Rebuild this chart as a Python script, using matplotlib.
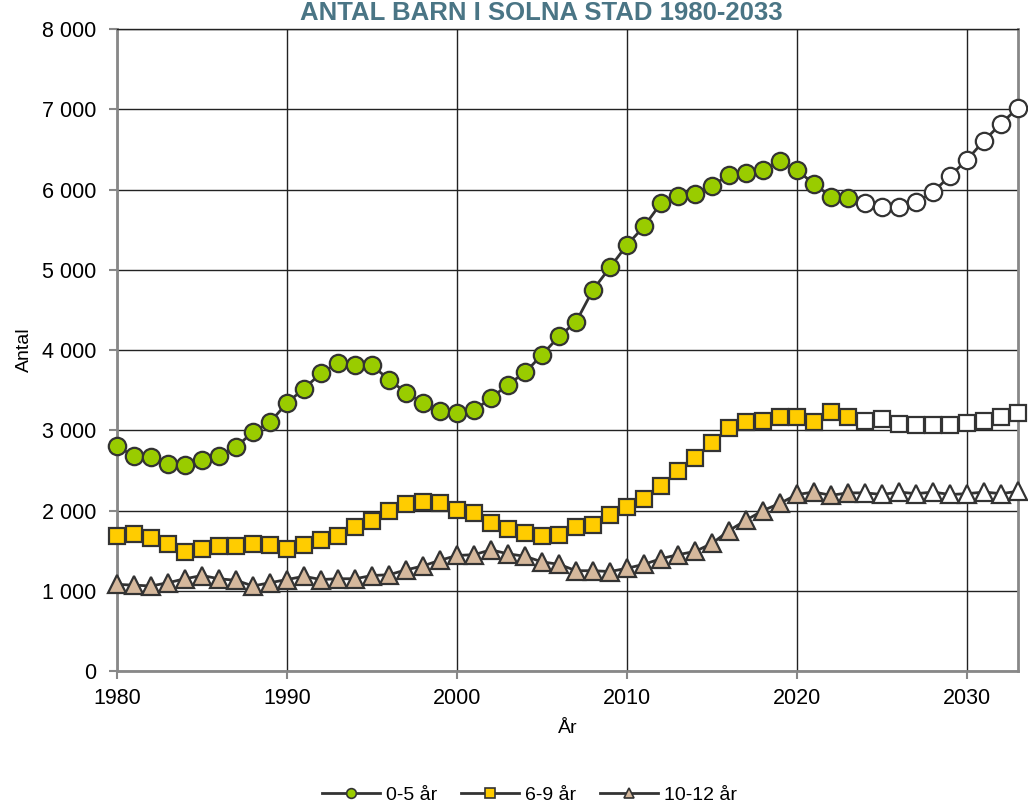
import matplotlib
matplotlib.use("Agg")
import matplotlib.pyplot as plt
from matplotlib.lines import Line2D
from matplotlib.ticker import FuncFormatter

# years; values from 2024 onward are projections (white markers)
years = list(range(1980, 2034))
first_proj = 2024

age_0_5 = [2800, 2680, 2670, 2580, 2570, 2630, 2680, 2790, 2980, 3100,
           3340, 3520, 3710, 3840, 3810, 3810, 3630, 3470, 3340, 3240,
           3220, 3250, 3400, 3570, 3720, 3940, 4170, 4350, 4750, 5030,
           5310, 5540, 5830, 5920, 5950, 6050, 6180, 6200, 6240, 6350,
           6240, 6070, 5910, 5900, 5830, 5780, 5780, 5840, 5970, 6170,
           6370, 6610, 6820, 7020]
age_6_9 = [1680, 1710, 1660, 1580, 1480, 1520, 1560, 1560, 1580, 1570,
           1520, 1570, 1630, 1680, 1800, 1870, 2000, 2080, 2100, 2090,
           2010, 1970, 1850, 1770, 1720, 1680, 1690, 1790, 1820, 1940,
           2050, 2140, 2310, 2490, 2660, 2840, 3030, 3100, 3120, 3170,
           3170, 3100, 3230, 3170, 3120, 3140, 3080, 3070, 3060, 3070,
           3090, 3110, 3160, 3210]
age_10_12 = [1080, 1070, 1060, 1100, 1150, 1190, 1150, 1130, 1060, 1100,
             1140, 1180, 1140, 1150, 1150, 1190, 1200, 1260, 1310, 1380,
             1440, 1450, 1510, 1460, 1430, 1360, 1330, 1250, 1250, 1240,
             1280, 1330, 1400, 1450, 1490, 1590, 1750, 1880, 2000, 2090,
             2200, 2230, 2190, 2220, 2220, 2200, 2230, 2210, 2230, 2200,
             2210, 2230, 2210, 2240]

series = [
    ("0-5 år", age_0_5, "o", "#99CC00", 12.5),
    ("6-9 år", age_6_9, "s", "#FFCC00", 12),
    ("10-12 år", age_10_12, "^", "#D5B89C", 13),
]

plt.rcParams['font.family'] = ['Liberation Sans', 'DejaVu Sans']
edge = "#333333"

fig = plt.figure(figsize=(10.28, 8.11), dpi=100)
ax = fig.add_axes([0.1138, 0.1726, 0.8765, 0.7916])

split = years.index(first_proj)
handles = []
for label, vals, mk, col, ms in series:
    ax.plot(years, vals, color=edge, lw=2, zorder=3)
    ax.plot(years[:split], vals[:split], ls="none", marker=mk, ms=ms,
            mfc=col, mec=edge, mew=1.6, zorder=4, clip_on=False)
    ax.plot(years[split:], vals[split:], ls="none", marker=mk, ms=ms,
            mfc="white", mec=edge, mew=1.6, zorder=4, clip_on=False)
    handles.append(Line2D([], [], color=edge, lw=2, marker=mk, ms=7,
                          mfc=col, mec=edge, mew=1.2, label=label))

ax.set_xlim(1980, 2033)
ax.set_ylim(0, 8000)
ax.set_xticks(range(1980, 2031, 10))
ax.set_yticks(range(0, 8001, 1000))
ax.yaxis.set_major_formatter(FuncFormatter(lambda v, p: f"{int(v):,}".replace(",", " ")))
ax.grid(True, color="#222222", lw=1)
ax.set_axisbelow(True)

for s in ["left", "bottom", "right"]:
    ax.spines[s].set_color("#888888")
    ax.spines[s].set_linewidth(2)
ax.spines["top"].set_color("#222222")
ax.spines["top"].set_linewidth(1)
ax.tick_params(axis="both", colors="#888888", length=6, width=1.5,
               labelcolor="black", labelsize=15.5)
ax.tick_params(axis="x", pad=6)
ax.tick_params(axis="y", pad=9)

ax.set_xlabel("År", fontsize=14, labelpad=8)
ax.set_ylabel("Antal", fontsize=14, labelpad=6)
fig.text(0.527, 0.984, "ANTAL BARN I SOLNA STAD 1980-2033", ha="center",
         va="center", fontsize=18.5, fontweight="bold", color="#4A7585")

fig.legend(handles=handles, loc="center", bbox_to_anchor=(0.515, 0.02),
           ncol=3, frameon=False, fontsize=14, handlelength=3,
           columnspacing=1.2, handletextpad=0.3)

fig.savefig("out.png", dpi=100)
